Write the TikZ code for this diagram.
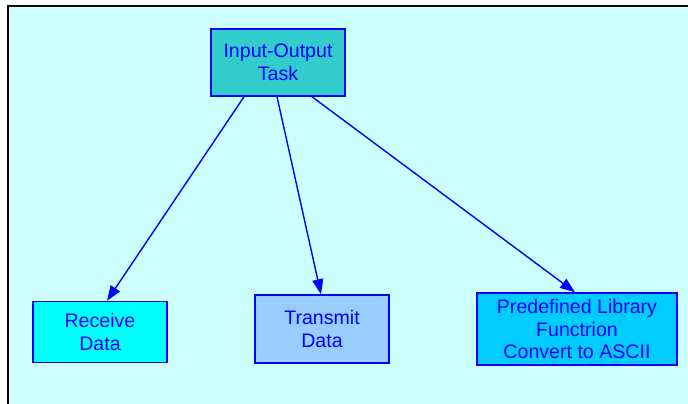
\documentclass[tikz,border=0pt]{standalone}
\usepackage{fontspec}
\setmainfont{Liberation Sans}
\usetikzlibrary{arrows.meta}
\definecolor{bgcyan}{HTML}{CCFFFF}
\definecolor{teal}{HTML}{33CCCC}
\definecolor{aqua}{HTML}{00FFFF}
\definecolor{paleblue}{HTML}{99CCFF}
\definecolor{skyblue}{HTML}{00CCFF}
\tikzset{
  task/.style={draw=blue, line width=1.5pt, text=blue, align=center,
    font=\fontsize{19.6}{22.8}\selectfont, inner sep=0pt},
  link/.style={draw=blue, line width=1.4pt,
    -{Triangle[length=15pt,width=11pt]}}
}
\begin{document}
\begin{tikzpicture}[x=1pt,y=-1pt]
  \useasboundingbox (0,0) rectangle (688,404);
  % canvas
  \fill[bgcyan] (8,7) rectangle (688,404);
  \draw[black, line width=2pt] (7.5,404) -- (7.5,6.5) -- (688,6.5);
  % boxes
  \node[task, fill=teal, minimum width=134pt, minimum height=67pt] (io) at (278,62.5) {Input-Output\\Task};
  \node[task, fill=aqua, minimum width=134pt, minimum height=61pt] (rx) at (100,332) {Receive\\Data};
  \node[task, fill=paleblue, minimum width=134pt, minimum height=68pt] (tx) at (322,329) {Transmit\\Data};
  \node[task, fill=skyblue, minimum width=200pt, minimum height=72pt] (lib) at (577,329) {Predefined Library\\Functrion\\Convert to ASCII};
  % connectors
  \draw[link] (io.south -| 244,0) -- (rx.north -| 107,0);
  \draw[link] (io.south -| 277,0) -- (tx.north -| 321,0);
  \draw[link] (io.south -| 312,0) -- (lib.north -| 575,0);
\end{tikzpicture}
\end{document}
